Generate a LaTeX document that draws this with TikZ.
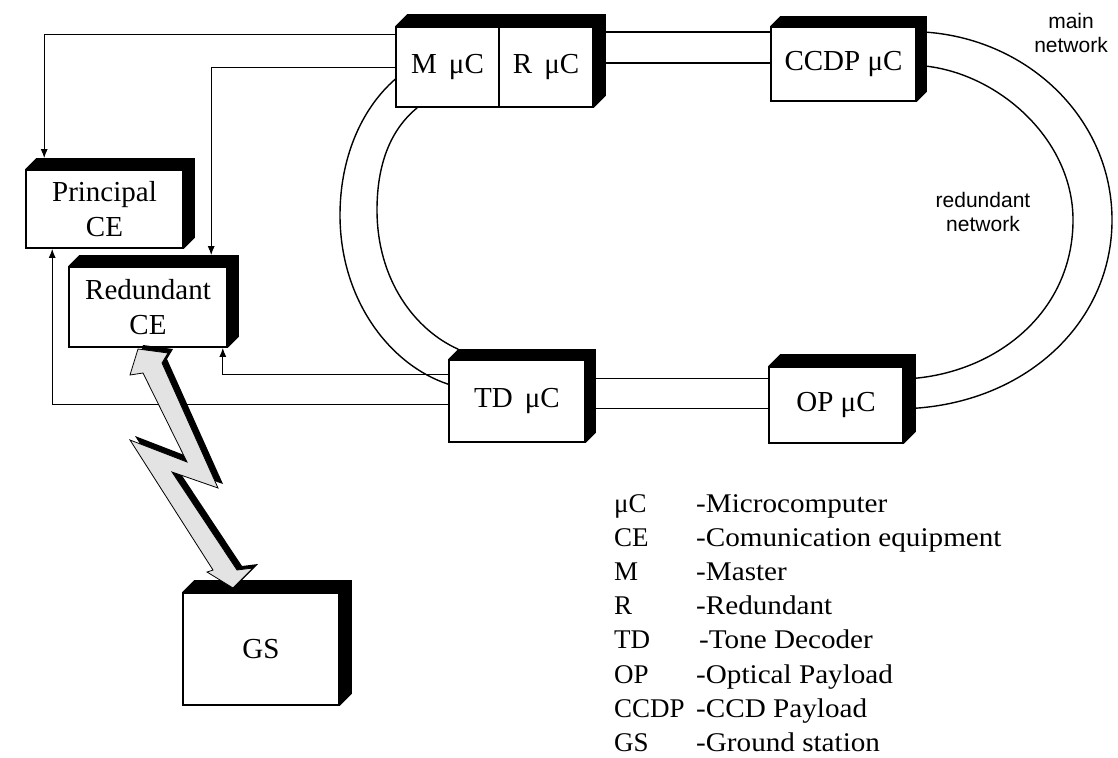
\documentclass[tikz,border=0pt]{standalone}
\usepackage{fontspec}
\usepackage{graphicx}
\setmainfont{Liberation Serif}
\newfontfamily\netfont{Liberation Sans}
\usetikzlibrary{calc,arrows.meta}
\tikzset{
 box/.style={draw, line width=1.6pt, fill=white, inner sep=0pt, font=\fontsize{29}{35}\selectfont, align=center},
 conn/.style={line width=1.2pt},
 arr/.style={conn, -{Latex[length=9pt,width=7pt]}},
 ring/.style={line width=1.4pt},
 net/.style={font=\netfont\fontsize{21}{24}\selectfont, align=center, inner sep=0pt},
 leg/.style={anchor=base west, font=\fontsize{27}{30}\selectfont, inner sep=0pt},
 bolt/.style={fill=gray!22, draw=black, line width=0.8pt, line join=miter},
}
\newcommand\extrude[3]{\fill (#1.north west) -- ++(#3,-#3) -- ($(#2.north east)+(#3,-#3)$) -- ($(#2.south east)+(#3,-#3)$) -- (#2.south east) -- (#2.north east) -- cycle;}
\newcommand\legtxt[1]{\scalebox{1.08}[1]{#1}}
\begin{document}
\begin{tikzpicture}[x=1pt,y=-1pt]
\useasboundingbox (0,0) rectangle (1118,757);

% boxes
\node[box, minimum width=103pt, minimum height=80pt] (M) at (447.5,67) {M\ \,μC};
\node[box, minimum width=94pt, minimum height=80pt] (R) at (546,67) {R\ \,μC};
\node[box, minimum width=145pt, minimum height=74pt] (CCDP) at (843.5,64) {CCDP μC};
\node[box, minimum width=134pt, minimum height=76pt] (OP) at (836,405) {OP μC};
\node[box, minimum width=136pt, minimum height=82pt] (TD) at (517,401) {TD\ \,μC};
\node[box, minimum width=157pt, minimum height=78pt] (PCE) at (104.5,209) {Principal\\CE};
\node[box, minimum width=158pt, minimum height=80pt] (RCE) at (148,307) {Redundant\\CE};
\node[box, minimum width=156pt, minimum height=112pt] (GS) at (261,649) {GS};

\extrude{M}{R}{12}
\extrude{CCDP}{CCDP}{10}
\extrude{OP}{OP}{12}
\extrude{TD}{TD}{10}
\extrude{PCE}{PCE}{11}
\extrude{RCE}{RCE}{11}
\extrude{GS}{GS}{12}

% connectors to communication equipment
\draw[arr] ($(M.north west)+(0,8)$) -| ($(PCE.north west)+(19,-11)$);
\draw[arr] ($(M.north west)+(0,41)$) -| ($(RCE.north west)+(143,-11)$);
\draw[arr] ($(TD.north west)+(0,15)$) -| ($(RCE.south east)+(-5,0)$);
\draw[arr] ($(TD.north west)+(0,45)$) -| ($(PCE.south west)+(27,0)$);

% main network (outer ring)
\draw[ring] ($(R.north east)+(12,6)$) -- ($(CCDP.north west)+(0,6)$);
\draw[ring] ($(CCDP.north east)+(10,6)$) .. controls (1030,40) and (1112,120) .. (1112,220)
  .. controls (1112,320) and (1030,400) .. ($(OP.north east)+(12,42)$);
\draw[ring] ($(TD.north east)+(10,49)$) -- ($(OP.north west)+(0,42)$);
\draw[ring] ($(M.north west)+(0,53)$) .. controls (360,110) and (340,160) .. (340,215)
  .. controls (340,300) and (390,365) .. ($(TD.north west)+(0,25)$);

% redundant network (inner ring)
\draw[ring] ($(R.north east)+(12,37)$) -- ($(CCDP.north west)+(0,37)$);
\draw[ring] ($(CCDP.north east)+(10,40)$) .. controls (1000,75) and (1073,140) .. (1073,220)
  .. controls (1073,310) and (1000,370) .. ($(OP.north east)+(12,12)$);
\draw[ring] ($(TD.north east)+(10,19)$) -- ($(OP.north west)+(0,12)$);
\draw[ring] ($(M.south west)+(22,0)$) .. controls (390,130) and (377,165) .. (377,210)
  .. controls (377,280) and (415,330) .. ($(TD.north west)+(10,-10)$);

% lightning link between Redundant CE and GS
\fill[shift={(5,-4)}] (138,349) -- (168,353) -- (162,363) -- (218,488) -- (172,472) -- (237,570) -- (253,568) -- (233,588) -- (207,572) -- (213,570) -- (130,440) -- (187,462) -- (143,373) -- (130,375) -- cycle;
\draw[bolt] (138,349) -- (168,353) -- (162,363) -- (218,488) -- (172,472) -- (237,570) -- (253,568) -- (233,588) -- (207,572) -- (213,570) -- (130,440) -- (187,462) -- (143,373) -- (130,375) -- cycle;

% network labels
\node[net] (mainlbl) at (1071,33) {main\\network};
\node[net] (redlbl) at (983,212) {redundant\\network};

% legend
\node[leg] (a1) at (614,512) {μC};
\node[leg] (b1) at (696,512) {\legtxt{-Microcomputer}};
\node[leg] (a2) at (614,546) {CE};
\node[leg] (b2) at (696,546) {\legtxt{-Comunication equipment}};
\node[leg] (a3) at (614,580) {M};
\node[leg] (b3) at (696,580) {\legtxt{-Master}};
\node[leg] (a4) at (614,614) {R};
\node[leg] (b4) at (696,614) {\legtxt{-Redundant}};
\node[leg] (a5) at (614,648) {TD};
\node[leg] (b5) at (699,648) {\legtxt{-Tone Decoder}};
\node[leg] (a6) at (614,683) {OP};
\node[leg] (b6) at (696,683) {\legtxt{-Optical Payload}};
\node[leg] (a7) at (614,717) {CCDP};
\node[leg] (b7) at (696,717) {\legtxt{-CCD Payload}};
\node[leg] (a8) at (614,751) {GS};
\node[leg] (b8) at (696,751) {\legtxt{-Ground station}};
\end{tikzpicture}
\end{document}
